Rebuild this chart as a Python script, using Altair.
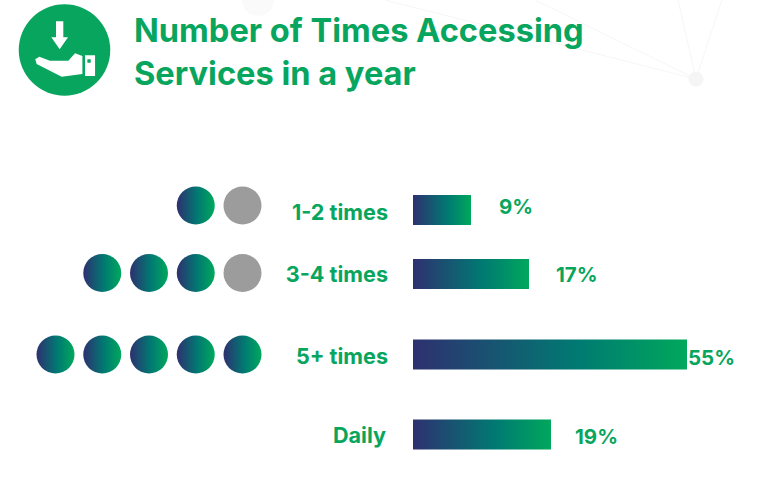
import altair as alt
import pandas as pd

# Survey results
categories = ["1-2 times", "3-4 times", "5+ times", "Daily"]
shares = [9, 17, 55, 19]
value_labels = ["9%", "17%", "55%", "19%"]
rows = [0, 1, 2, 3]

# Dot rows: slot counts from the right, "on" marks a dark gradient dot
dot_rows = [0, 0, 1, 1, 1, 1, 2, 2, 2, 2, 2]
dot_slots = [1, 2, 1, 2, 3, 4, 1, 2, 3, 4, 5]
dot_on = [False, True, False, True, True, True, True, True, True, True, True]

title_lines = ["Number of Times Accessing", "Services in a year"]
title_rows = [0, 1]

# Faint network drawn behind the heading
net_x = [696, 696, 696, 696]
net_y = [79, 79, 79, 79]
net_x2 = [678, 722, 535, 385]
net_y2 = [0, 0, 0, 0]
node_x = [696]
node_y = [79]
node_size = [225]
far_node_x = [258]
far_node_y = [0]
far_node_size = [1000]

GREEN = "#08a55e"
FONT = "Inter"
W, H = 763, 495

bar_fill = alt.Gradient(
    gradient="linear", x1=0, x2=1, y1=0, y2=0,
    stops=[
        alt.GradientStop(color="#2e3070", offset=0),
        alt.GradientStop(color="#007a72", offset=0.6),
        alt.GradientStop(color="#00a85c", offset=1),
    ],
)
dot_fill = alt.Gradient(
    gradient="linear", x1=0, x2=1, y1=0, y2=0,
    stops=[
        alt.GradientStop(color="#2e3070", offset=0),
        alt.GradientStop(color="#007a72", offset=0.55),
        alt.GradientStop(color="#00a85c", offset=1),
    ],
)

summary = pd.DataFrame({"cat": categories, "share": shares, "label": value_labels, "row": rows})
dots = pd.DataFrame({"row": dot_rows, "slot": dot_slots, "on": dot_on})
heading = pd.DataFrame({"line": title_lines, "n": title_rows})
edges = pd.DataFrame({"x": net_x, "y": net_y, "x2": net_x2, "y2": net_y2})
nodes = pd.DataFrame({"x": node_x, "y": node_y, "s": node_size})
far_nodes = pd.DataFrame({"x": far_node_x, "y": far_node_y, "s": far_node_size})


def pix(field, extent):
    """Positional encoding on a 1:1 canvas scale."""
    return dict(field=field, type="quantitative", axis=None,
                scale=alt.Scale(domain=[0, extent], range=[0, extent]))


def row_y(offsets):
    return alt.Y("row:Q", axis=None, scale=alt.Scale(domain=rows, range=offsets, padding=0))


def disc(frame, color, **mark_args):
    """Filled symbol whose size is taken straight from the frame."""
    return alt.Chart(frame).mark_point(filled=True, color=color, opacity=1, **mark_args).encode(
        x=alt.X(**pix("x", W)), y=alt.Y(**pix("y", H)),
        size=alt.Size("s:Q", legend=None, scale=None),
    )


net_lines = alt.Chart(edges).mark_rule(color="#f6f6f6", strokeWidth=1).encode(
    x=alt.X(**pix("x", W)), x2="x2:Q", y=alt.Y(**pix("y", H)), y2="y2:Q"
)
net_node = disc(nodes, "#f5f5f5")
net_far_node = disc(far_nodes, "#fafafa")

# Badge: disc plus a hand receiving a downward arrow
badge_center = pd.DataFrame({"x": [64.5], "y": [50], "s": [91.5 ** 2]})
hand_path = (
    "M-.186,-.628L-.026,-.628L-.026,-.277L.077,-.277L-.106,-.015L-.288,-.277L-.186,-.277Z"
    "M-.639,.204L-.551,.146L-.318,.234L.084,.234L.23,.073L.391,.131L.391,.526L-.062,.584L-.609,.307Z"
    "M.449,.117L.668,.117L.668,.569L.449,.569Z"
    "M.5,.204L.5,.277L.573,.277L.573,.204Z"
)
badge_disc = disc(badge_center, GREEN)
badge_hand = disc(badge_center, "white", shape=hand_path)

title_text = alt.Chart(heading).mark_text(
    align="left", baseline="middle", font=FONT, fontWeight=700, fontSize=32.6, color=GREEN
).encode(
    x=alt.value(134),
    y=alt.Y("n:Q", axis=None, scale=alt.Scale(domain=[0, 1], range=[32, 75])),
    text="line:N",
)

dot_x = alt.X("slot:Q", axis=None, scale=alt.Scale(domain=[1, 5], range=[242.5, 55.5]))
dot_y = row_y([205.5, 273, 354.5, 434])
dots_on = alt.Chart(dots).transform_filter("datum.on").mark_point(
    filled=True, fill=dot_fill, opacity=1, size=38 ** 2
).encode(x=dot_x, y=dot_y)
dots_off = alt.Chart(dots).transform_filter("!datum.on").mark_point(
    filled=True, color="#9c9c9c", opacity=1, size=38 ** 2
).encode(x=dot_x, y=dot_y)

cat_text = alt.Chart(summary).mark_text(
    align="right", baseline="middle", font=FONT, fontWeight=700, fontSize=21.6, color=GREEN
).encode(
    x=alt.X("row:Q", axis=None, scale=alt.Scale(domain=rows, range=[388, 388, 388, 386])),
    y=row_y([214, 276, 358, 437]),
    text="cat:N",
)

bars = alt.Chart(summary).mark_bar(fill=bar_fill, size=30, orient="horizontal").encode(
    x=alt.X("share:Q", axis=None, stack=None,
            scale=alt.Scale(domain=[0, 9, 17, 19, 55], range=[413, 471, 529, 551, 687], padding=0)),
    y=row_y([210, 274, 354.5, 434.5]),
)

value_text = alt.Chart(summary).mark_text(
    align="left", baseline="middle", font=FONT, fontWeight=700, fontSize=20.5, color=GREEN
).encode(
    x=alt.X("share:Q", axis=None,
            scale=alt.Scale(domain=[9, 17, 19, 55], range=[499, 556, 575, 688])),
    y=row_y([208, 275.5, 358.5, 437.5]),
    text="label:N",
)

chart = (
    alt.layer(net_lines, net_node, net_far_node, badge_disc, badge_hand, title_text,
              dots_on, dots_off, cat_text, bars, value_text)
    .resolve_scale(x="independent", y="independent", size="independent")
    .properties(width=W, height=H, padding=0, autosize=alt.AutoSizeParams(type="none"))
    .configure_view(stroke=None)
)

chart.save("out.html", embed_options={"renderer": "svg", "actions": False})
